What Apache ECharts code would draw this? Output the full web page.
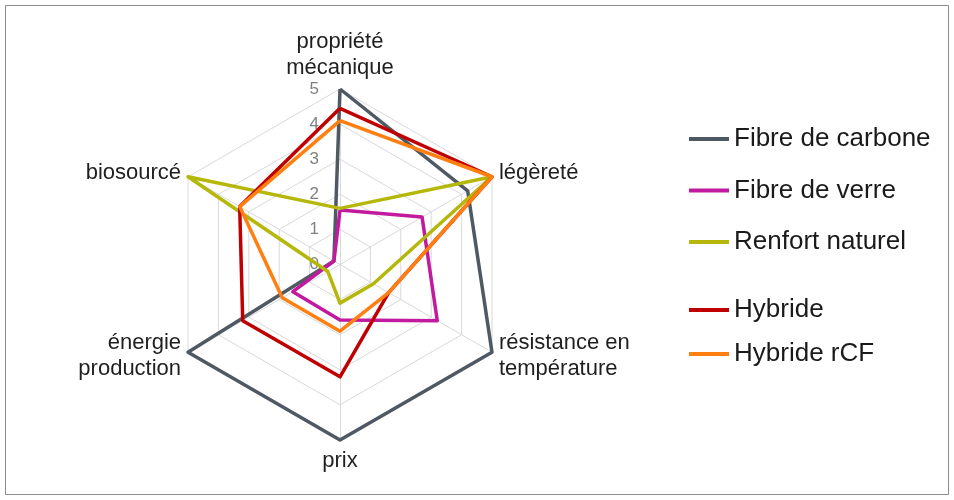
<!DOCTYPE html>
<html><head><meta charset="utf-8">
<script src="https://cdn.jsdelivr.net/npm/echarts@6/dist/echarts.min.js"></script>
<style>html,body{margin:0;padding:0;background:#fff}#c{width:954px;height:500px}</style>
</head><body><div id="c"></div>
<script>
// categories listed clockwise from the top
const categories = ['propriété\nmécanique', 'légèreté', 'résistance en\ntempérature', 'prix', 'énergie\nproduction', 'biosourcé'];
const tickLabels = ['0', '1', '2', '3', '4', '5'];
const seriesNames = ['Fibre de carbone', 'Fibre de verre', 'Renfort naturel', 'Hybride', 'Hybride rCF'];
const fibreCarbone   = [5, 4.2, 5, 5, 5, 0.2];
const fibreVerre     = [1.55, 2.7, 3.2, 1.58, 1.55, 0.2];
const renfortNaturel = [1.6, 5, 1.1, 1.1, 0.4, 5];
const hybride        = [4.45, 5, 1.6, 3.2, 3.2, 3.3];
const hybrideRCF     = [4.1, 5, 1.6, 1.9, 1.9, 3.3];
const colors = ['#4f5964', '#c21a9e', '#b5b80a', '#c00000', '#ff7f10'];

const allData = [fibreCarbone, fibreVerre, renfortNaturel, hybride, hybrideRCF];
// ECharts lays indicators counter-clockwise; reorder to get clockwise layout
const order = [0, 5, 4, 3, 2, 1];
const reorder = arr => order.map(i => arr[i]);

const indicators = reorder(categories).map((name, k) => {
  const ind = { name: name, min: 0, max: 5 };
  if (k === 0) {
    ind.axisLabel = {
      show: true, color: '#808080', fontSize: 17, fontFamily: 'Liberation Sans, Arial, sans-serif',
      margin: 21, formatter: v => tickLabels[Math.round(v)]
    };
  }
  return ind;
});

const chart = echarts.init(document.getElementById('c'), null, { renderer: 'canvas' });
chart.setOption({
  backgroundColor: '#ffffff',
  animation: false,
  color: colors,
  graphic: [{
    type: 'rect', shape: { x: 5.5, y: 5.5, width: 943, height: 489 },
    style: { fill: 'none', stroke: '#8c8c8c', lineWidth: 1 }, silent: true
  }],
  legend: [{
    data: seriesNames.slice(0, 3), orient: 'vertical', left: 684, top: 121,
    icon: 'rect', itemWidth: 40, itemHeight: 4, itemGap: 25.5,
    textStyle: { fontSize: 26, lineHeight: 26, color: '#1a1a1a', fontFamily: 'Liberation Sans, Arial, sans-serif' }
  }, {
    data: seriesNames.slice(3), orient: 'vertical', left: 684, top: 292,
    icon: 'rect', itemWidth: 40, itemHeight: 4, itemGap: 18,
    textStyle: { fontSize: 26, lineHeight: 26, color: '#1a1a1a', fontFamily: 'Liberation Sans, Arial, sans-serif' }
  }],
  radar: {
    center: [340, 264.5],
    radius: 175.5,
    startAngle: 90,
    splitNumber: 5,
    shape: 'polygon',
    nameGap: 8,
    indicator: indicators,
    axisName: {
      color: '#1f1f1f', fontSize: 22, lineHeight: 26,
      fontFamily: 'Liberation Sans, Arial, sans-serif'
    },
    axisLabel: { show: false },
    axisTick: { show: false },
    axisLine: { lineStyle: { color: '#d9d9d9', width: 1 } },
    splitLine: { lineStyle: { color: '#d9d9d9', width: 1 } },
    splitArea: { show: false }
  },
  series: seriesNames.map((n, i) => ({
    type: 'radar',
    name: n,
    symbol: 'none',
    lineStyle: { width: 3.5, color: colors[i] },
    itemStyle: { color: colors[i] },
    data: [{ name: n, value: reorder(allData[i]) }]
  }))
});
</script>
</body></html>
